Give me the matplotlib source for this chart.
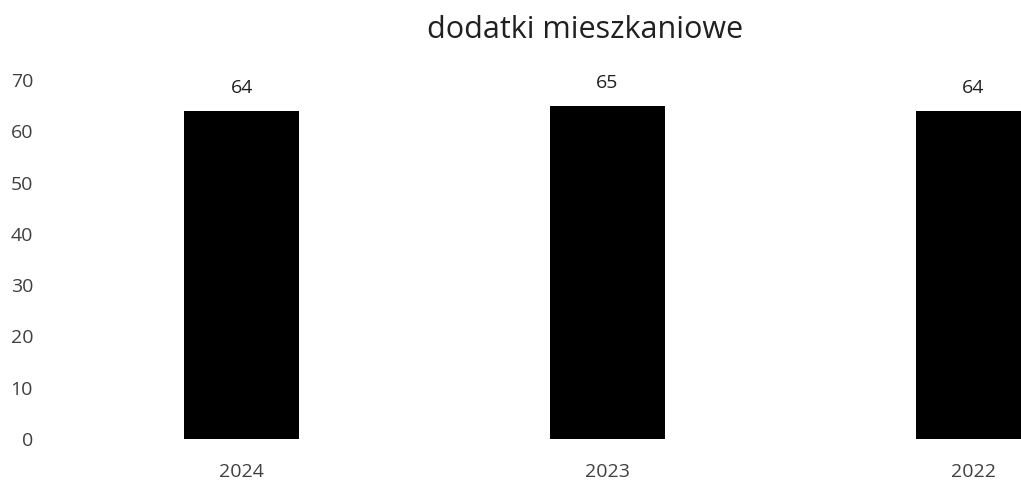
import matplotlib
matplotlib.use('Agg')
import matplotlib.pyplot as plt

years = ['2024', '2023', '2022']
values = [64, 65, 64]

plt.rcParams['font.family'] = ['Open Sans', 'DejaVu Sans']

fig = plt.figure(figsize=(10.21, 4.82), dpi=100)
ax = fig.add_axes([40/1021, 43/482, 981/1021, 359/482])

x = list(range(len(years)))
bars = ax.bar(x, values, width=0.314, color='black')

for xi, v in zip(x, values):
    ax.text(xi, v + 4.4, str(v), ha='center', va='center', fontsize=14, color='#202020')

ax.set_xlim(-0.551, 2.130)
ax.set_ylim(0, 70)
ax.set_xticks(x)
ax.set_xticklabels(years)
ax.set_yticks(range(0, 71, 10))
ax.tick_params(axis='both', length=0, labelsize=14, colors='#404040')
ax.tick_params(axis='x', pad=17)
ax.tick_params(axis='y', pad=5)
for s in ax.spines.values():
    s.set_visible(False)

fig.text(585/1021, 1 - 30/482, 'dodatki mieszkaniowe', ha='center', va='center',
         fontsize=22, color='#202020')

fig.savefig('out.png', dpi=100)
